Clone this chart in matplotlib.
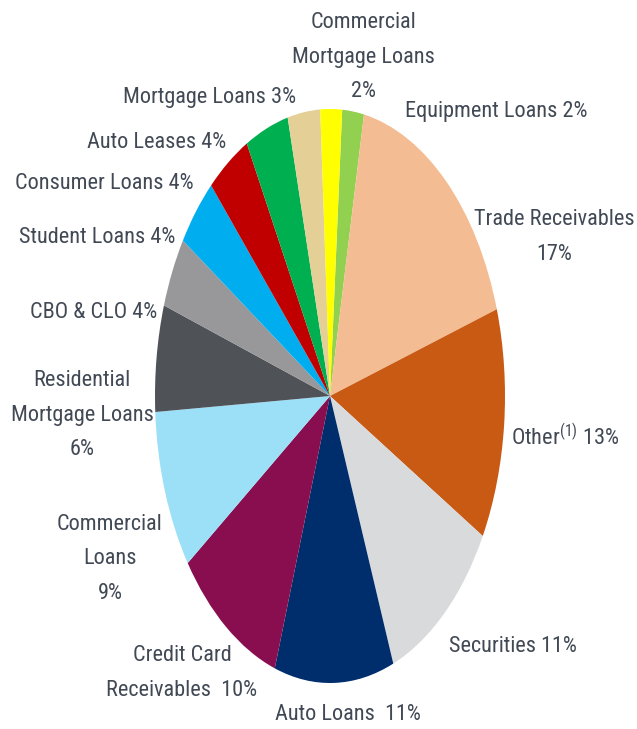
import matplotlib
matplotlib.use("Agg")
import matplotlib.pyplot as plt

# Portfolio composition by asset class (percent), clockwise from the top
categories = [
    "Equipment Loans", "Trade Receivables", "Other", "Securities", "Auto Loans",
    "Credit Card Receivables", "Commercial Loans", "Residential Mortgage Loans",
    "CBO & CLO", "Student Loans", "Consumer Loans", "Auto Leases",
    "Mortgage Loans", "Commercial Mortgage Loans",
]
shares = [2, 17, 13, 11, 11, 10, 9, 6, 4, 4, 4, 4, 3, 2]
colors = [
    "#92D050", "#F4BC92", "#C85A14", "#D9DADC", "#002D6C",
    "#880E4F", "#9CE0F8", "#4F5257", "#98989A", "#00AEEF",
    "#C00000", "#00B050", "#E4D097", "#FFFF00",
]
label_texts = [
    "Equipment Loans 2%", "Trade Receivables\n17%", "Other$^{\\mathrm{(1)}}$ 13%",
    "Securities 11%", "Auto Loans  11%", "Credit Card\nReceivables  10%",
    "Commercial\nLoans\n9%", "Residential\nMortgage Loans\n6%", "CBO & CLO 4%",
    "Student Loans 4%", "Consumer Loans 4%", "Auto Leases 4%",
    "Mortgage Loans 3%", "Commercial\nMortgage Loans\n2%",
]

# label anchor points in pixels (x from left, y from top) and alignment
label_pos = [
    (405, 112, "left"), (554, 237, "center"), (511, 437, "left"),
    (449, 646, "left"), (275, 714, "left"), (182, 673, "center"),
    (110, 559, "center"), (82, 415, "center"), (157, 312, "right"),
    (175, 238, "right"), (194, 183, "right"), (226, 143, "right"),
    (296, 98, "right"), (363, 57, "center"),
]

W, H = 637, 729
FONT = ["Roboto Condensed", "DejaVu Sans"]
plt.rcParams["mathtext.fontset"] = "custom"
plt.rcParams["mathtext.rm"] = "Roboto Condensed"
fig = plt.figure(figsize=(W / 100, H / 100), dpi=100)
ax = fig.add_axes([0, 0, 1, 1])

ax.pie(shares, colors=colors, startangle=86, counterclock=False,
       radius=1.0, center=(0, 0), wedgeprops=dict(linewidth=0))

# elliptical pie: horizontal radius 175 px, vertical radius 287 px
cx, cy, rx, ry = 330, 396, 175, 287
ax.set_aspect("auto")
ax.set_xlim(-cx / rx, (W - cx) / rx)
ax.set_ylim(-(H - cy) / ry, cy / ry)
ax.axis("off")

for txt, (px, py, ha) in zip(label_texts, label_pos):
    fig.text(px / W, 1 - py / H, txt, ha=ha, va="center",
             fontsize=16, color="#414955", linespacing=1.85,
             family=FONT)

fig.savefig("out.png", dpi=100)
